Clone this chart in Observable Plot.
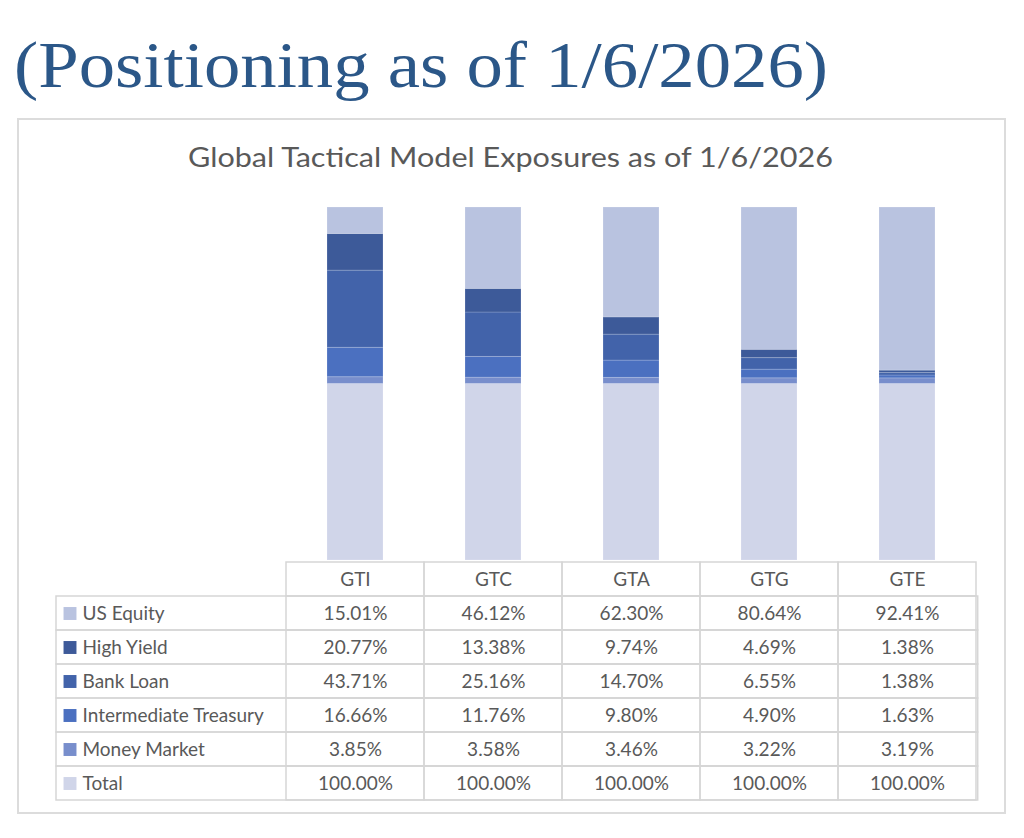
<!DOCTYPE html>
<html>
<head>
<meta charset="utf-8">
<script src="https://cdn.jsdelivr.net/npm/d3@7"></script>
<script src="https://cdn.jsdelivr.net/npm/@observablehq/plot@0.6"></script>
<style>
  html, body { margin: 0; padding: 0; background: #ffffff; }
  body { width: 1024px; height: 838px; position: relative; overflow: hidden; font-family: Lato, "Open Sans", sans-serif; }
  #heading { position: absolute; left: 0; top: 0; }
  #panel { position: absolute; left: 17px; top: 118px; width: 985px; height: 692px; border: 2px solid #dcdcdc; }
  #chartTitle { position: absolute; left: 0; top: 130px; }
  #bars { position: absolute; left: 0; top: 190px; }
  #table { position: absolute; left: 0; top: 561px; }
</style>
</head>
<body>
<svg id="heading" width="1024" height="118">
  <text x="14" y="87" fill="#2b5788" font-family="'Liberation Serif', 'DejaVu Serif', serif" font-size="66"
        textLength="814" lengthAdjust="spacingAndGlyphs">(Positioning as of 1/6/2026)</text>
</svg>
<div id="panel"></div>
<svg id="chartTitle" width="1024" height="50">
  <text x="510.5" y="37" text-anchor="middle" fill="#595959" font-family="Lato, 'Open Sans', sans-serif" font-size="26"
        textLength="645" lengthAdjust="spacingAndGlyphs">Global Tactical Model Exposures as of 1/6/2026</text>
</svg>
<div id="bars"></div>
<div id="table"></div>
<script>
// Models (columns) and exposure series (table rows, top to bottom)
const models = ["GTI", "GTC", "GTA", "GTG", "GTE"];
const seriesNames = ["US Equity", "High Yield", "Bank Loan", "Intermediate Treasury", "Money Market", "Total"];
const seriesColors = ["#b9c3e0", "#3d5a99", "#4263aa", "#4b70c0", "#788ecc", "#d0d5e9"];

// Allocation percentages per model
const usEquity = [15.01, 46.12, 62.30, 80.64, 92.41];
const highYield = [20.77, 13.38, 9.74, 4.69, 1.38];
const bankLoan = [43.71, 25.16, 14.70, 6.55, 1.38];
const intermediateTreasury = [16.66, 11.76, 9.80, 4.90, 1.63];
const moneyMarket = [3.85, 3.58, 3.46, 3.22, 3.19];
const total = [100.00, 100.00, 100.00, 100.00, 100.00];

const valuesBySeries = {
  "US Equity": usEquity,
  "High Yield": highYield,
  "Bank Loan": bankLoan,
  "Intermediate Treasury": intermediateTreasury,
  "Money Market": moneyMarket,
  "Total": total
};

// Long-form records: table order, and the reverse for bottom-up stacking
const records = seriesNames.flatMap(series =>
  models.map((model, i) => ({model, series, value: valuesBySeries[series][i]}))
);
const stackRecords = seriesNames.slice().reverse().flatMap(series =>
  models.map((model, i) => ({model, series, value: valuesBySeries[series][i]}))
);

const colorScale = {domain: seriesNames, range: seriesColors};
const columnRange = [283.5, 977.7];
const font = "Lato, 'Open Sans', sans-serif";
const grid = "#d6d6d6";
const textSize = 19;

// Stacked columns
const bars = Plot.plot({
  width: 1024,
  height: 371,
  marginTop: 17,
  marginBottom: 1,
  marginLeft: 0,
  marginRight: 0,
  x: {domain: models, range: columnRange, paddingInner: 0.597, paddingOuter: 0.2985, axis: null},
  y: {domain: [0, 200], axis: null},
  color: colorScale,
  marks: [
    Plot.barY(stackRecords, {
      x: "model", y: "value", fill: "series",
      stroke: "#ffffff", strokeOpacity: 0.18, strokeWidth: 1
    })
  ]
});
document.getElementById("bars").appendChild(bars);

// Data table beneath the columns
const headerKey = " ";
const table = Plot.plot({
  width: 1024,
  height: 241,
  marginTop: 0.5,
  marginBottom: 1,
  marginLeft: 56,
  marginRight: 1024 - columnRange[1],
  style: {fontFamily: font},
  x: {domain: models, range: columnRange, padding: 0, axis: null},
  y: {domain: [headerKey, ...seriesNames], padding: 0, axis: null},
  color: colorScale,
  marks: [
    // full-width row borders
    Plot.cell(seriesNames, {y: d => d, fill: "none", stroke: grid, strokeWidth: 1.5}),
    // header cells
    Plot.cell(models, {x: d => d, y: () => headerKey, fill: "none", stroke: grid, strokeWidth: 1.5}),
    // value cells
    Plot.cell(records, {x: "model", y: "series", fill: "none", stroke: grid, strokeWidth: 1.5}),
    Plot.text(models, {x: d => d, y: () => headerKey, text: d => d, fill: "#595959", fontSize: textSize}),
    Plot.text(records, {
      x: "model", y: "series",
      text: d => d.value.toFixed(2) + "%",
      fill: "#595959", fontSize: textSize
    }),
    // legend keys and row labels
    Plot.dot(seriesNames, {y: d => d, fill: d => d, symbol: "square", r: 7.3, frameAnchor: "left", dx: 13.5}),
    Plot.text(seriesNames, {
      y: d => d, text: d => d, frameAnchor: "left", dx: 26, textAnchor: "start",
      fill: "#595959", fontSize: textSize
    })
  ]
});
document.getElementById("table").appendChild(table);
</script>
</body>
</html>
